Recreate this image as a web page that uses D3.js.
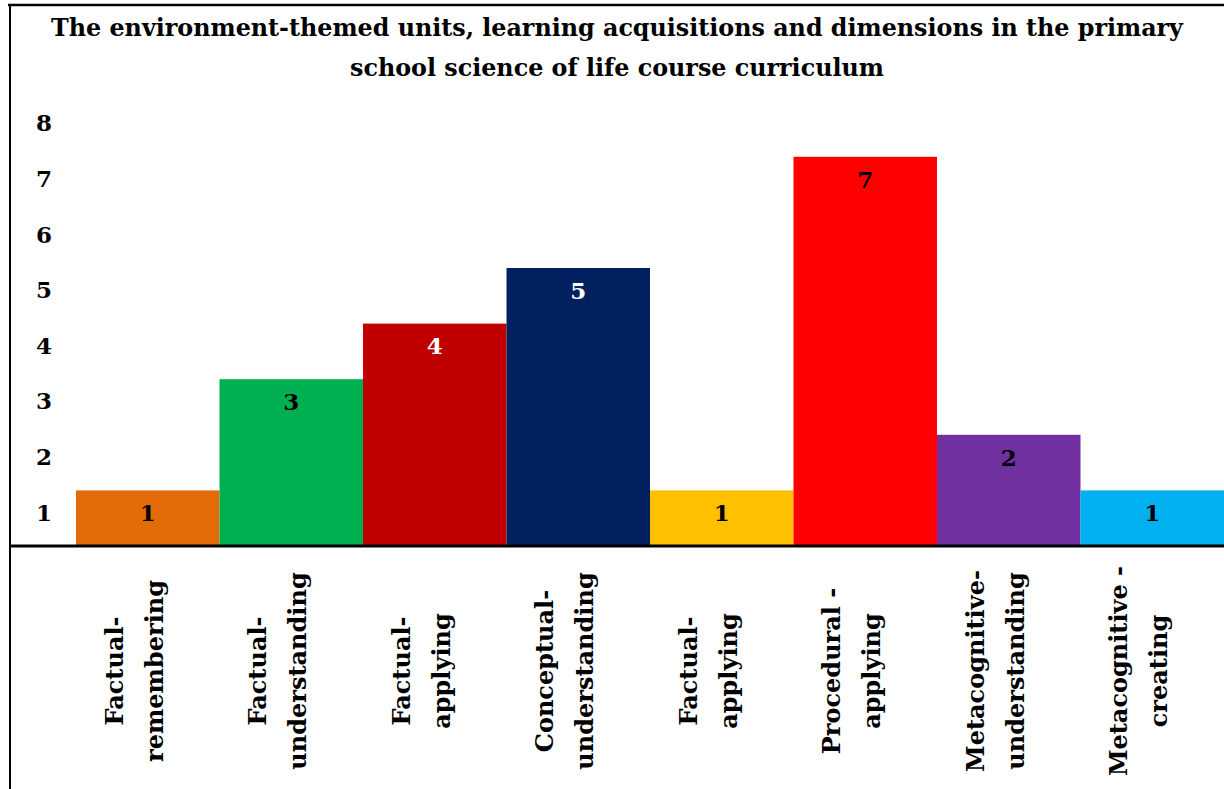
<!DOCTYPE html>
<html>
<head>
<meta charset="utf-8">
<script src="https://cdn.jsdelivr.net/npm/d3@7"></script>
<style>
  body { margin: 0; background: #fff; }
  svg text { font-family: "DejaVu Serif", serif; font-weight: bold; }
</style>
</head>
<body>
<div id="chart"></div>
<script>
// data
const titleLines = [
    "The environment-themed units, learning acquisitions and dimensions in the primary",
    "school science of life course curriculum"
];
const categories = [
    ["Factual-", "remembering"],
    ["Factual-", "understanding"],
    ["Factual-", "applying"],
    ["Conceptual-", "understanding"],
    ["Factual-", "applying"],
    ["Procedural -", "applying"],
    ["Metacognitive-", "understanding"],
    ["Metacognitive -", "creating"]
];
const values = [1, 3, 4, 5, 1, 7, 2, 1];
const barColors = ["#E36C09", "#00B050", "#C00000", "#002060", "#FFC000", "#FF0000", "#7030A0", "#00B0F0"];
const valueColors = ["#000", "#000", "#fff", "#fff", "#000", "#000", "#000", "#000"];
const yTicks = [1, 2, 3, 4, 5, 6, 7, 8];

const W = 1224, H = 789;
const baseY = 546;

const svg = d3.select("#chart")
    .append("svg")
    .attr("width", W)
    .attr("height", H);

// scales
const x = d3.scaleBand()
    .domain(d3.range(values.length))
    .range([76, W])
    .padding(0);

const y = d3.scaleLinear()
    .domain([0, 8])
    .range([baseY, baseY - 8 * 55.6]);

// ticks sit in the middle of each unit step
const yBand = d3.scaleBand()
    .domain(yTicks)
    .range([baseY, y(8)]);

// title
svg.append("g")
    .selectAll("text")
    .data(titleLines)
    .enter()
    .append("text")
    .attr("x", 617)
    .attr("y", (d, i) => 36 + i * 40)
    .attr("text-anchor", "middle")
    .style("font-size", "23.8px")
    .text(d => d);

// bars
svg.selectAll("rect.bar")
    .data(values)
    .enter()
    .append("rect")
    .attr("class", "bar")
    .attr("x", (d, i) => x(i))
    .attr("y", d => y(d))
    .attr("width", x.bandwidth())
    .attr("height", d => y(0) - y(d))
    .attr("fill", (d, i) => barColors[i]);

// numbers in the bars
svg.selectAll("text.value")
    .data(values)
    .enter()
    .append("text")
    .attr("class", "value")
    .attr("x", (d, i) => x(i) + x.bandwidth() / 2)
    .attr("y", d => yBand(d) + yBand.bandwidth() / 2 - 5)
    .attr("dy", "0.35em")
    .attr("text-anchor", "middle")
    .style("font-size", "23px")
    .attr("fill", (d, i) => valueColors[i])
    .text(d => d);

// y axis (labels only)
const yAxis = svg.append("g")
    .attr("transform", "translate(0,-5)")
    .call(d3.axisLeft(yBand).tickSize(0).tickPadding(0));
yAxis.select(".domain").remove();
yAxis.selectAll("text")
    .attr("x", 36)
    .attr("text-anchor", "start")
    .attr("fill", "#000")
    .style("font-size", "23px")
    .style("font-family", "DejaVu Serif, serif")
    .style("font-weight", "bold");

// category labels, rotated, two lines each
const catG = svg.selectAll("g.cat")
    .data(categories)
    .enter()
    .append("g")
    .attr("class", "cat")
    .attr("transform", (d, i) => "translate(" + (x(i) + x.bandwidth() / 2) + ",671)");

catG.selectAll("text")
    .data(d => d)
    .enter()
    .append("text")
    .attr("transform", (d, j) => "translate(" + (j === 0 ? -25 : 15) + ",0) rotate(-90)")
    .attr("text-anchor", "middle")
    .style("font-size", "24px")
    .text(d => d);

// frame lines
svg.append("line")
    .attr("x1", 8).attr("x2", W)
    .attr("y1", 5).attr("y2", 5)
    .attr("stroke", "#000").attr("stroke-width", 2.5);
svg.append("line")
    .attr("x1", 10).attr("x2", 10)
    .attr("y1", 4).attr("y2", H)
    .attr("stroke", "#000").attr("stroke-width", 2);
svg.append("line")
    .attr("x1", 9).attr("x2", W)
    .attr("y1", baseY).attr("y2", baseY)
    .attr("stroke", "#000").attr("stroke-width", 3);
</script>
</body>
</html>
